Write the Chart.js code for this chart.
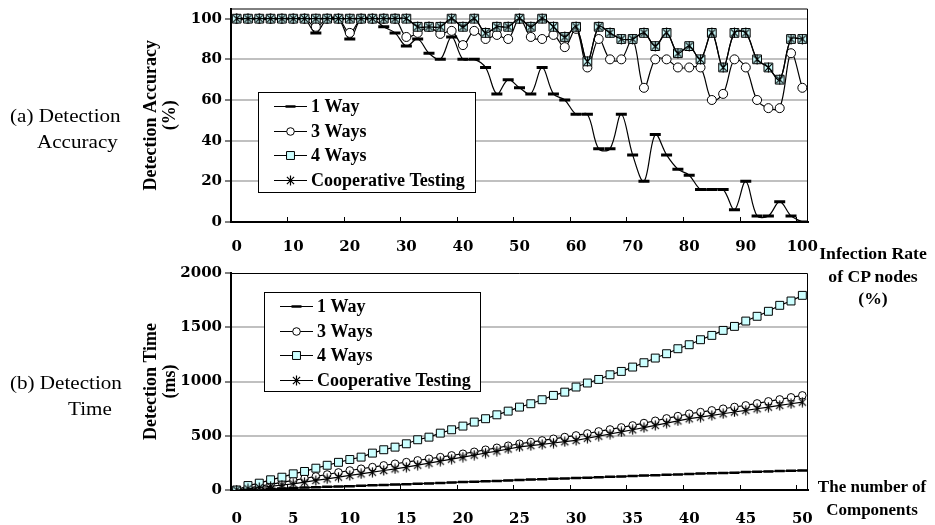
<!DOCTYPE html>
<html>
<head>
<meta charset="utf-8">
<script src="https://cdn.jsdelivr.net/npm/chart.js@4.4.1/dist/chart.umd.min.js"></script>
<style>
  html, body { margin: 0; padding: 0; background: #fff; }
  #page { position: relative; width: 935px; height: 525px; overflow: hidden; }
  canvas { position: absolute; left: 0; }
  #accChart { top: 0; }
  #timeChart { top: 262px; }
  .lbl { position: absolute; font-family: "Liberation Serif", "Times New Roman", serif; color: #000; white-space: nowrap; }
  .side { font-size: 19px; line-height: 19px; transform: scaleX(1.11); transform-origin: 0 0; }
  .axn { font-size: 17px; font-weight: bold; text-align: center; width: 140px; }
</style>
</head>
<body>
<div id="page">
  <canvas id="accChart" width="935" height="262"></canvas>
  <canvas id="timeChart" width="935" height="263"></canvas>

  <div class="lbl side" style="left:10px;top:106px">(a) Detection</div>
  <div class="lbl side" style="left:37px;top:131.5px">Accuracy</div>
  <div class="lbl side" style="left:10px;top:373px">(b) Detection</div>
  <div class="lbl side" style="left:68px;top:398.5px">Time</div>

  <div class="lbl axn" style="left:803px;top:243px;line-height:22.5px;transform:scaleX(1.04);transform-origin:70px 0">Infection Rate<br>of CP nodes<br>(%)</div>
  <div class="lbl axn" style="left:802px;top:474.5px;line-height:23px">The number of<br>Components</div>
</div>

<script>
// (a) detection accuracy vs infection rate of CP nodes
const rates = [0, 2, 4, 6, 8, 10, 12, 14, 16, 18, 20, 22, 24, 26, 28, 30, 32, 34, 36, 38, 40,
  42, 44, 46, 48, 50, 52, 54, 56, 58, 60, 62, 64, 66, 68, 70, 72, 74, 76, 78, 80,
  82, 84, 86, 88, 90, 92, 94, 96, 98, 100];
const rateTicks = [0, 10, 20, 30, 40, 50, 60, 70, 80, 90, 100];
const accTicks  = [0, 20, 40, 60, 80, 100];

const acc1Way   = [100, 100, 100, 100, 100, 100, 100, 93, 100, 100, 90, 100, 100, 96, 93, 86.5, 90,
  83, 80, 91, 80, 80, 76, 63, 70, 66, 63, 76, 63, 60, 53, 53, 36, 36, 53, 33, 20, 43, 33, 26, 23,
  16, 16, 16, 6, 20, 3, 3, 10, 3, 0];
const acc3Ways  = [100, 100, 100, 100, 100, 100, 100, 96, 100, 100, 93, 100, 100, 100, 100, 91, 93,
  96, 92.5, 94, 87, 94, 90, 92, 90, 100, 91, 90, 92, 86, 95, 76, 90, 80, 80, 90, 66, 80, 80, 76, 76,
  76, 60, 63, 80, 76, 60, 56, 56, 83, 66];
const acc4Ways  = [100, 100, 100, 100, 100, 100, 100, 100, 100, 100, 100, 100, 100, 100, 100, 100, 96,
  96, 96, 100, 96, 100, 93, 96, 96, 100, 96, 100, 96, 91, 96, 79, 96, 93, 90, 90, 93, 86.5, 93, 83, 86.5,
  80, 93, 76, 93, 93, 80, 76, 70, 90, 90];
const accCoop   = [100, 100, 100, 100, 100, 100, 100, 100, 100, 100, 100, 100, 100, 100, 100, 100, 96,
  96, 96, 100, 96, 100, 93, 96, 96, 100, 96, 100, 96, 91, 96, 79, 96, 93, 90, 90, 93, 86.5, 93, 83, 86.5,
  80, 93, 76, 93, 93, 80, 76, 70, 90, 90];

// (b) detection time vs number of components
const comps = [0, 1, 2, 3, 4, 5, 6, 7, 8, 9, 10, 11, 12, 13, 14, 15, 16, 17, 18, 19, 20,
  21, 22, 23, 24, 25, 26, 27, 28, 29, 30, 31, 32, 33, 34, 35, 36, 37, 38, 39, 40,
  41, 42, 43, 44, 45, 46, 47, 48, 49, 50];
const compTicks = [0, 5, 10, 15, 20, 25, 30, 35, 40, 45, 50];
const timeTicks = [0, 500, 1000, 1500, 2000];

const time1Way  = [0, 4, 7, 11, 14, 18, 22, 25, 29, 32, 35, 40, 43, 47, 50, 54, 58, 61, 65, 68, 74,
  77, 80, 84, 88, 93, 96, 99, 103, 106, 111, 114, 117, 121, 124, 130, 133, 136, 140, 143, 148,
  151, 154, 157, 160, 166, 169, 171, 174, 177, 180];
const time3Ways = [0, 17, 35, 52, 70, 88, 106, 125, 143, 162, 180, 196, 211, 227, 242, 257, 273,
  288, 303, 319, 334, 352, 371, 389, 408, 426, 442, 457, 472, 488, 503, 521, 540, 558, 577, 595,
  617, 638, 660, 681, 703, 718, 734, 749, 765, 780, 798, 817, 835, 854, 872];
const time4Ways = [0, 41, 63, 94, 118, 149, 171, 201, 228, 255, 281, 303, 340, 371, 395, 426, 463,
  487, 524, 555, 589, 626, 657, 693, 727, 764, 795, 832, 872, 902, 949, 986, 1019, 1062, 1093, 1133,
  1173, 1216, 1256, 1302, 1339, 1385, 1425, 1471, 1508, 1557, 1601, 1647, 1702, 1742, 1794];
const timeCoop  = [0, 11, 23, 34, 46, 57, 72, 88, 103, 119, 134, 149, 164, 180, 195, 210, 229, 247,
  266, 284, 303, 322, 341, 359, 378, 397, 409, 421, 433, 445, 457, 477, 496, 516, 535, 555, 575,
  596, 616, 637, 657, 672, 688, 703, 719, 734, 749, 764, 780, 795, 810];

const seriesNames = ['1 Way', '3 Ways', '4 Ways', 'Cooperative Testing'];

const SERIF = '"Liberation Serif", "Times New Roman", serif';
const WIDE  = '"DejaVu Serif", serif';

// excel style "*" marker: vertical bar plus an x
function asterisk(size, lw) {
  const c = document.createElement('canvas');
  c.width = c.height = size;
  const g = c.getContext('2d');
  const m = size / 2, r = size / 2 - 0.5, d = r * 0.72;
  g.strokeStyle = '#000';
  g.lineWidth = lw;
  g.beginPath();
  g.moveTo(m, m - r); g.lineTo(m, m + r);
  g.moveTo(m - d, m - d); g.lineTo(m + d, m + d);
  g.moveTo(m + d, m - d); g.lineTo(m - d, m + d);
  g.stroke();
  return c;
}

function makeSets(data, big, smooth) {
  const base = { borderColor: '#000', borderWidth: 1.2, pointBorderColor: '#000', tension: smooth ? 0.35 : 0 };
  return [
    { ...base, label: seriesNames[0], data: data[0], order: 3, pointStyle: 'line',
      pointRadius: big ? 5.5 : 5, pointBorderWidth: big ? 3 : 2.5, pointBackgroundColor: '#000' },
    { ...base, label: seriesNames[1], data: data[1], order: 2, pointStyle: 'circle',
      pointRadius: big ? 4.5 : 3.8, pointBorderWidth: 1, pointBackgroundColor: '#fff' },
    { ...base, label: seriesNames[2], data: data[2], order: 1, pointStyle: 'rect',
      pointRadius: big ? 6.2 : 5.6, pointBorderWidth: 1, pointBackgroundColor: '#ccffff' },
    { ...base, label: seriesNames[3], data: data[3], order: 0, pointStyle: asterisk(11, 1.2),
      pointRadius: 5, pointBorderWidth: 1, pointBackgroundColor: '#000' },
  ];
}

// thin top/right edge of the plot area
const frame = {
  id: 'frame',
  beforeDatasetsDraw(chart) {
    const { ctx, chartArea: a } = chart;
    ctx.save();
    ctx.strokeStyle = '#000';
    ctx.lineWidth = 1;
    ctx.beginPath();
    ctx.moveTo(a.left, a.top + 0.5);
    ctx.lineTo(a.right - 0.5, a.top + 0.5);
    ctx.lineTo(a.right - 0.5, a.bottom);
    ctx.stroke();
    ctx.restore();
  }
};

// boxed legend inside the plot area
const boxLegend = {
  id: 'boxLegend',
  afterDraw(chart, args, o) {
    const { ctx, chartArea: a } = chart;
    const x = Math.round(a.left + o.dx), y = Math.round(a.top + o.dy);
    ctx.save();
    ctx.fillStyle = '#fff';
    ctx.fillRect(x, y, o.w, o.h);
    ctx.strokeStyle = '#000';
    ctx.lineWidth = 1;
    ctx.strokeRect(x + 0.5, y + 0.5, o.w, o.h);
    ctx.font = 'bold 18px ' + SERIF;
    ctx.textBaseline = 'middle';
    ctx.textAlign = 'left';
    const sizes = [5, 3.8, 5.6, 5];
    chart.data.datasets.forEach((ds, i) => {
      const ry = Math.round(y + 14 + i * 24.5) + 0.5;
      ctx.strokeStyle = '#000';
      ctx.lineWidth = 1.2;
      ctx.beginPath();
      ctx.moveTo(x + 16, ry);
      ctx.lineTo(x + 49, ry);
      ctx.stroke();
      ctx.fillStyle = ds.pointBackgroundColor;
      ctx.lineWidth = i === 0 ? 2.5 : 1;
      Chart.helpers.drawPoint(ctx, { pointStyle: ds.pointStyle, radius: sizes[i], rotation: 0,
        borderWidth: ctx.lineWidth }, x + 32.5, ry);
      ctx.fillStyle = '#000';
      ctx.fillText(ds.label, x + 53, ry + 1);
    });
    ctx.restore();
  }
};

function makeChart(id, cfg) {
  const edge = v => (v === cfg.ticks[0] || v === cfg.max) ? 'rgba(0,0,0,0)' : '#c0c0c0';
  return new Chart(document.getElementById(id), {
    type: 'line',
    data: { labels: cfg.labels, datasets: makeSets(cfg.data, cfg.big, cfg.smooth) },
    plugins: [frame, boxLegend],
    options: {
      responsive: false,
      animation: false,
      events: [],
      layout: { padding: { left: 130, right: 127, top: cfg.top, bottom: 0 } },
      plugins: {
        legend: { display: false },
        tooltip: { enabled: false },
        boxLegend: cfg.legend,
      },
      scales: {
        x: {
          type: 'category',
          offset: true,
          afterFit: s => { s.height = cfg.xh; s.paddingLeft = 0; s.paddingRight = 0; },
          border: { display: true, color: '#000', width: 2 },
          grid: {
            offset: true, drawOnChartArea: false, drawTicks: true, tickLength: -5,
            tickWidth: 1, tickColor: c => c.index % 5 === 0 ? '#000' : 'rgba(0,0,0,0)',
          },
          ticks: {
            autoSkip: false, maxRotation: 0, padding: cfg.xpad, color: '#000',
            font: { family: WIDE, size: 15, weight: 'bold' },
            callback: (v, i) => cfg.shown.includes(cfg.labels[i]) ? String(cfg.labels[i]) : '',
          },
        },
        y: {
          min: 0, max: cfg.max,
          afterFit: s => { s.width = 101; s.paddingTop = 0; s.paddingBottom = 0; },
          afterBuildTicks: s => { s.ticks = cfg.ticks.map(v => ({ value: v })); },
          border: { display: true, color: '#000', width: 2 },
          grid: {
            color: c => edge(c.tick.value), lineWidth: 2,
            tickColor: '#000', tickWidth: 1, tickLength: 6,
          },
          ticks: {
            padding: 3, color: '#000',
            font: { family: WIDE, size: 15, weight: 'bold' },
            callback: v => String(v),
          },
          title: {
            display: true, text: cfg.ytitle, color: '#000',
            padding: { top: 12, bottom: 0 },
            font: { family: SERIF, size: 18, weight: 'bold', lineHeight: 1.05 },
          },
        },
      },
    },
  });
}

makeChart('accChart', {
  labels: rates, shown: rateTicks, ticks: accTicks, max: 105,
  data: [acc1Way, acc3Ways, acc4Ways, accCoop],
  big: true, smooth: true, top: 6, xh: 40, xpad: 21,
  ytitle: ['Detection Accuracy', '(%)'],
  legend: { dx: 27, dy: 83, w: 217, h: 100 },
});

makeChart('timeChart', {
  labels: comps, shown: compTicks, ticks: timeTicks, max: 2000,
  data: [time1Way, time3Ways, time4Ways, timeCoop],
  big: false, smooth: false, top: 11, xh: 35, xpad: 25,
  ytitle: ['Detection Time', '(ms)'],
  legend: { dx: 33, dy: 18.7, w: 216, h: 99 },
});
</script>
</body>
</html>
